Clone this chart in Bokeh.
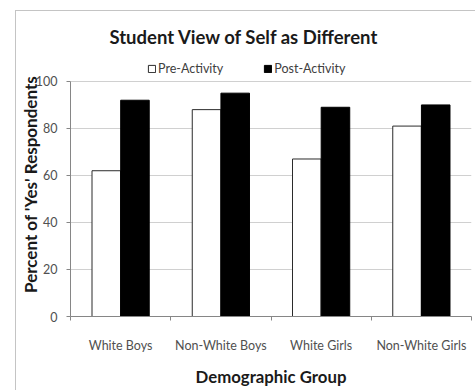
import numpy as np
from bokeh.plotting import figure
from bokeh.models import (ColumnDataSource, FixedTicker, Legend, LegendItem,
                          Range1d, Title)
from bokeh.transform import dodge
from bokeh.embed import file_html
from bokeh.resources import INLINE

# Survey results: percent of students answering "yes"
categories = ["White Boys", "Non-White Boys", "White Girls", "Non-White Girls"]
pre_activity = [62, 88, 67, 81]
post_activity = [92, 95, 89, 90]
y_ticks = [0, 20, 40, 60, 80, 100]
series_names = ["Pre-Activity", "Post-Activity"]

FONT = "Lato"
AXIS_GRAY = "#868686"

x_pos = np.arange(len(categories)) + 0.5
source = ColumnDataSource(dict(x=x_pos, cat=categories,
                               pre=pre_activity, post=post_activity))

# the y range leaves headroom above 100 for the legend row
p = figure(width=460, height=380, title=None,
           x_range=Range1d(0, len(categories)), y_range=Range1d(0, 112.3),
           output_backend="svg", toolbar_location=None,
           min_border_left=52, min_border_right=5,
           min_border_top=41, min_border_bottom=75,
           border_fill_color="white", background_fill_color="white")
# chart panel sits inside a thin grey frame, offset from the page corner
p.margin = (10, 0, 0, 15)
p.styles = {"border-left": "1px solid #c4c4c4", "border-top": "1px solid #c4c4c4"}
p.outline_line_color = None

p.add_layout(Title(text="Student View of Self as Different", align="left",
                   offset=39, text_font=FONT, text_font_size="18.5px",
                   text_font_style="bold", text_color="#1a1a1a"), "above")

# bars
bar_w = 0.285
r_pre = p.vbar(x=dodge("x", -0.143, range=p.x_range), top="pre", width=bar_w,
               source=source, fill_color="white", line_color="#2b2b2b",
               line_width=1)
r_post = p.vbar(x=dodge("x", 0.143, range=p.x_range), top="post", width=bar_w,
                source=source, fill_color="black", line_color="black",
                line_width=1)

# legend row above the 100 line
legend = Legend(items=[LegendItem(label=series_names[0], renderers=[r_pre]),
                       LegendItem(label=series_names[1], renderers=[r_post])],
                orientation="horizontal", location=(77, 240),
                glyph_width=9, glyph_height=9, label_standoff=2, spacing=40,
                padding=0, margin=0, border_line_color=None,
                background_fill_alpha=0, label_height=12,
                label_text_font=FONT, label_text_font_size="12.5px",
                label_text_color="#404040")
p.add_layout(legend)

# y axis
p.yaxis.bounds = (0, 100)
p.yaxis.ticker = FixedTicker(ticks=y_ticks)
p.yaxis.axis_line_color = AXIS_GRAY
p.yaxis.major_tick_line_color = AXIS_GRAY
p.yaxis.major_tick_out = 4
p.yaxis.major_tick_in = 0
p.yaxis.minor_tick_line_color = None
p.yaxis.major_label_standoff = 9
p.yaxis.major_label_text_font = FONT
p.yaxis.major_label_text_font_size = "12.5px"
p.yaxis.major_label_text_color = "#505050"
p.yaxis.axis_label = "Percent of 'Yes' Respondents"
p.yaxis.axis_label_text_font = FONT
p.yaxis.axis_label_text_font_size = "17px"
p.yaxis.axis_label_text_font_style = "bold"
p.yaxis.axis_label_text_color = "#1a1a1a"
p.yaxis.axis_label_standoff = -8

# x axis: labels at category centres, tick marks at category boundaries
p.xaxis.ticker = FixedTicker(ticks=list(x_pos),
                             minor_ticks=list(range(len(categories) + 1)))
p.xaxis.major_label_overrides = {float(x): c for x, c in zip(x_pos, categories)}
p.xaxis.axis_line_color = AXIS_GRAY
p.xaxis.major_tick_line_color = None
p.xaxis.major_tick_out = 0
p.xaxis.major_tick_in = 0
p.xaxis.minor_tick_line_color = AXIS_GRAY
p.xaxis.minor_tick_out = 4
p.xaxis.minor_tick_in = 0
p.xaxis.major_label_standoff = 17
p.xaxis.major_label_text_font = FONT
p.xaxis.major_label_text_font_size = "12.5px"
p.xaxis.major_label_text_color = "#505050"
p.xaxis.axis_label = "Demographic Group"
p.xaxis.axis_label_text_font = FONT
p.xaxis.axis_label_text_font_size = "16.8px"
p.xaxis.axis_label_text_font_style = "bold"
p.xaxis.axis_label_text_color = "#1a1a1a"
p.xaxis.axis_label_standoff = 10

# grid
p.xgrid.grid_line_color = None
p.ygrid.ticker = FixedTicker(ticks=y_ticks)
p.ygrid.grid_line_color = "#d0d0d0"

open("out.html", "w").write(file_html(p, INLINE))
